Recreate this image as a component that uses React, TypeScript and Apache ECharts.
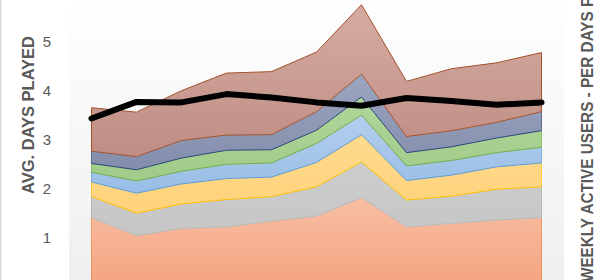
import React, { useEffect, useRef } from "react";
import * as echarts from "echarts";

const categories = ["W1", "W2", "W3", "W4", "W5", "W6", "W7", "W8", "W9", "W10", "W11"];

// stacked layers (read in left-axis units), bottom to top
const layer1 = [1.40, 1.03, 1.18, 1.21, 1.33, 1.43, 1.81, 1.21, 1.28, 1.35, 1.40];
const layer2 = [0.43, 0.46, 0.50, 0.56, 0.50, 0.60, 0.73, 0.55, 0.56, 0.63, 0.63];
const layer3 = [0.30, 0.41, 0.41, 0.43, 0.40, 0.50, 0.56, 0.40, 0.43, 0.46, 0.49];
const layer4 = [0.20, 0.25, 0.26, 0.29, 0.29, 0.39, 0.40, 0.30, 0.30, 0.29, 0.32];
const layer5 = [0.18, 0.23, 0.27, 0.29, 0.27, 0.27, 0.37, 0.27, 0.28, 0.30, 0.34];
const layer6 = [0.25, 0.27, 0.36, 0.31, 0.31, 0.38, 0.47, 0.33, 0.33, 0.32, 0.39];
const layer7 = [0.89, 0.91, 1.02, 1.27, 1.29, 1.22, 1.42, 1.13, 1.27, 1.22, 1.21];

const avgDaysPlayed = [3.43, 3.77, 3.76, 3.93, 3.86, 3.76, 3.69, 3.85, 3.79, 3.71, 3.76];

const yTicks = [0, 1, 2, 3, 4, 5, 6];
const shownTicks = [1, 2, 3, 4, 5];

const layers = [layer1, layer2, layer3, layer4, layer5, layer6, layer7];
const fillTop = ["#F8BEA4", "#CDCDCD", "#FFDA8E", "#B3CFEE", "#B1D69B", "#9CA5C0", "#D5ACA3"];
const fillBottom = ["#F4A47F", "#C6C6C6", "#FFD27A", "#98BDE5", "#A0CB88", "#838DAB", "#BF8D83"];
const edgeColors = ["#B9B9B9", "#FFC000", "#5B9BD5", "#70AD47", "#264478", "#A5522A", "#A5522A"];
const sideColors = ["#ED7D31", "#A5A5A5", "#FFC000", "#5B9BD5", "#70AD47", "#264478", "#A5522A"];

export default function App() {
  const ref = useRef<HTMLDivElement>(null);
  useEffect(() => {
    if (!ref.current) return;
    const chart = echarts.init(ref.current, undefined, { renderer: "svg" });
    const last = categories.length - 1;
    const cumBelow = (i: number, k: number) =>
      layers.slice(0, i).reduce((s, l) => s + l[k], 0);
    const areaSeries = layers.map((data, i) => ({
      name: "L" + (i + 1),
      type: "line",
      stack: "wau",
      data,
      symbol: "none",
      z: 10 - i,
      lineStyle: { color: edgeColors[i], width: 1 },
      areaStyle: {
        opacity: 1,
        color: new echarts.graphic.LinearGradient(0, 0, 0, 1, [
          { offset: 0, color: fillTop[i] },
          { offset: 1, color: fillBottom[i] },
        ]),
      },
      markLine: {
        silent: true,
        symbol: "none",
        label: { show: false },
        lineStyle: { color: sideColors[i], width: 1, type: "solid" },
        data: [
          [
            { coord: [0, cumBelow(i, 0)] },
            { coord: [0, cumBelow(i, 0) + data[0]] },
          ],
          [
            { coord: [last, cumBelow(i, last)] },
            { coord: [last, cumBelow(i, last) + data[last]] },
          ],
        ],
      },
    }));
    chart.setOption({
      animation: false,
      backgroundColor: "#FFFFFF",
      grid: {
        left: 69, right: 36, top: -7, bottom: -6,
        containLabel: false,
        outerBoundsMode: "none",
        show: true, borderWidth: 0,
        backgroundColor: new echarts.graphic.LinearGradient(0, 0, 0, 1, [
          { offset: 0, color: "#FFFFFF" },
          { offset: 1, color: "#EFEFEF" },
        ]),
      },
      xAxis: {
        type: "category",
        data: categories,
        boundaryGap: true,
        axisLine: { show: false },
        axisTick: { show: false },
        axisLabel: { show: false },
      },
      yAxis: {
        type: "value",
        min: yTicks[0],
        max: yTicks[yTicks.length - 1],
        interval: 1,
        splitLine: { show: false },
        axisLine: { show: false },
        axisTick: { show: false },
        axisLabel: {
          color: "#595959",
          fontSize: 15,
          fontFamily: "Liberation Sans",
          margin: 18,
          formatter: (v: number) => (shownTicks.indexOf(v) >= 0 ? String(v) : ""),
        },
      },
      series: [
        ...areaSeries,
        {
          name: "Avg. days played",
          type: "line",
          data: avgDaysPlayed,
          symbol: "none",
          z: 20,
          lineStyle: { color: "#000000", width: 6, cap: "round", join: "round" },
        },
      ],
      graphic: [
        {
          type: "rect",
          left: 0,
          top: 0,
          shape: { x: 0, y: 0, width: 1.5, height: 280 },
          style: { fill: "#DADADA" },
          z: 100,
        },
        {
          type: "text",
          x: 28,
          y: 115,
          rotation: Math.PI / 2,
          scaleX: 0.97,
          style: {
            text: "AVG. DAYS PLAYED",
            fill: "#595959",
            font: "bold 17px 'Liberation Sans'",
            align: "center",
            verticalAlign: "middle",
          },
          z: 100,
        },
        {
          type: "text",
          x: 587,
          y: 282,
          rotation: Math.PI / 2,
          scaleX: 0.9,
          style: {
            text: "WEEKLY ACTIVE USERS - PER DAYS PLAYED",
            fill: "#595959",
            font: "bold 17px 'Liberation Sans'",
            align: "left",
            verticalAlign: "middle",
          },
          z: 100,
        },
      ],
    });
    return () => chart.dispose();
  }, []);
  return (
    <div
      ref={ref}
      style={{ position: "fixed", left: 0, top: 0, width: 600, height: 280 }}
    />
  );
}
